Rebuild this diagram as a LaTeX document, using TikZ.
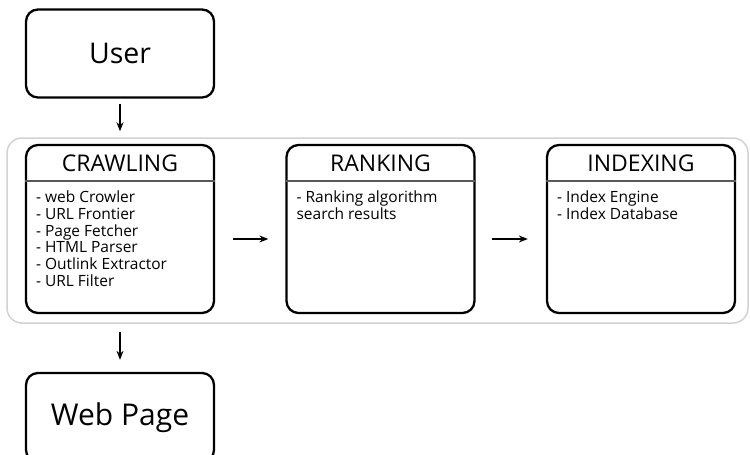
\documentclass[tikz,border=0pt]{standalone}
\usepackage{fontspec}
\setmainfont{Open Sans}
\usetikzlibrary{arrows.meta}

\tikzset{
  box/.style={draw, line width=2.3pt, rounded corners=12pt, minimum width=188pt, fill=white, inner sep=0pt},
  stagebox/.style={box, minimum height=168pt},
  title/.style={inner sep=0pt, font=\fontsize{23}{26}\selectfont},
  items/.style={anchor=north west, align=left, inner sep=0pt, font=\fontsize{15.5}{16.7}\selectfont},
  sep/.style={draw=black!65, line width=1.3pt},
  arr/.style={-{Stealth[length=9pt,width=7pt]}, line width=1.2pt},
}

\begin{document}
\begin{tikzpicture}[x=1pt,y=-1pt]
  \useasboundingbox (0,0) rectangle (750,455);
  \clip (0,0) rectangle (750,455);

  % frame round the three stages
  \node[draw=gray!35, line width=1.5pt, rounded corners=15pt, minimum width=741pt, minimum height=185pt] (frame) at (377.5,230.5) {};

  \node[box, minimum height=88pt, font=\fontsize{28.5}{32}\selectfont] (user) at (120,53.5) {User};
  \node[box, minimum height=89pt, font=\fontsize{30}{34}\selectfont] (web) at (120,417.5) {Web Page};

  \node[stagebox] (crawl) at (120,229) {};
  \node[stagebox] (rank) at (380.5,229) {};
  \node[stagebox] (index) at (641,229) {};

  \foreach \n/\t in {crawl/CRAWLING, rank/RANKING, index/INDEXING}{
    \node[title] (\n-title) at ([yshift=-19pt]\n.north) {\t};
    \draw[sep] ([yshift=-37pt]\n.north west) -- ([yshift=-37pt]\n.north east);
  }

  \node[items] (crawl-list) at ([shift={(11,47)}]crawl.north west)
    {- web Crowler\\- URL Frontier\\- Page Fetcher\\- HTML Parser\\- Outlink Extractor\\- URL Filter};
  \node[items] (rank-list) at ([shift={(11,47)}]rank.north west)
    {- Ranking algorithm\\search results};
  \node[items] (index-list) at ([shift={(11,47)}]index.north west)
    {- Index Engine\\- Index Database};

  \coordinate (fr-top) at (user.south |- frame.north);
  \coordinate (fr-bot) at (web.north |- frame.south);

  \draw[arr] ([yshift=-5pt]user.south) -- ([yshift=6pt]fr-top);
  \draw[arr] ([yshift=-8pt]fr-bot) -- ([yshift=12pt]web.north);
  \draw[arr] ([shift={(18,10)}]crawl.east) -- ([shift={(-17,10)}]rank.west);
  \draw[arr] ([shift={(16,10)}]rank.east) -- ([shift={(-18,10)}]index.west);
\end{tikzpicture}
\end{document}
